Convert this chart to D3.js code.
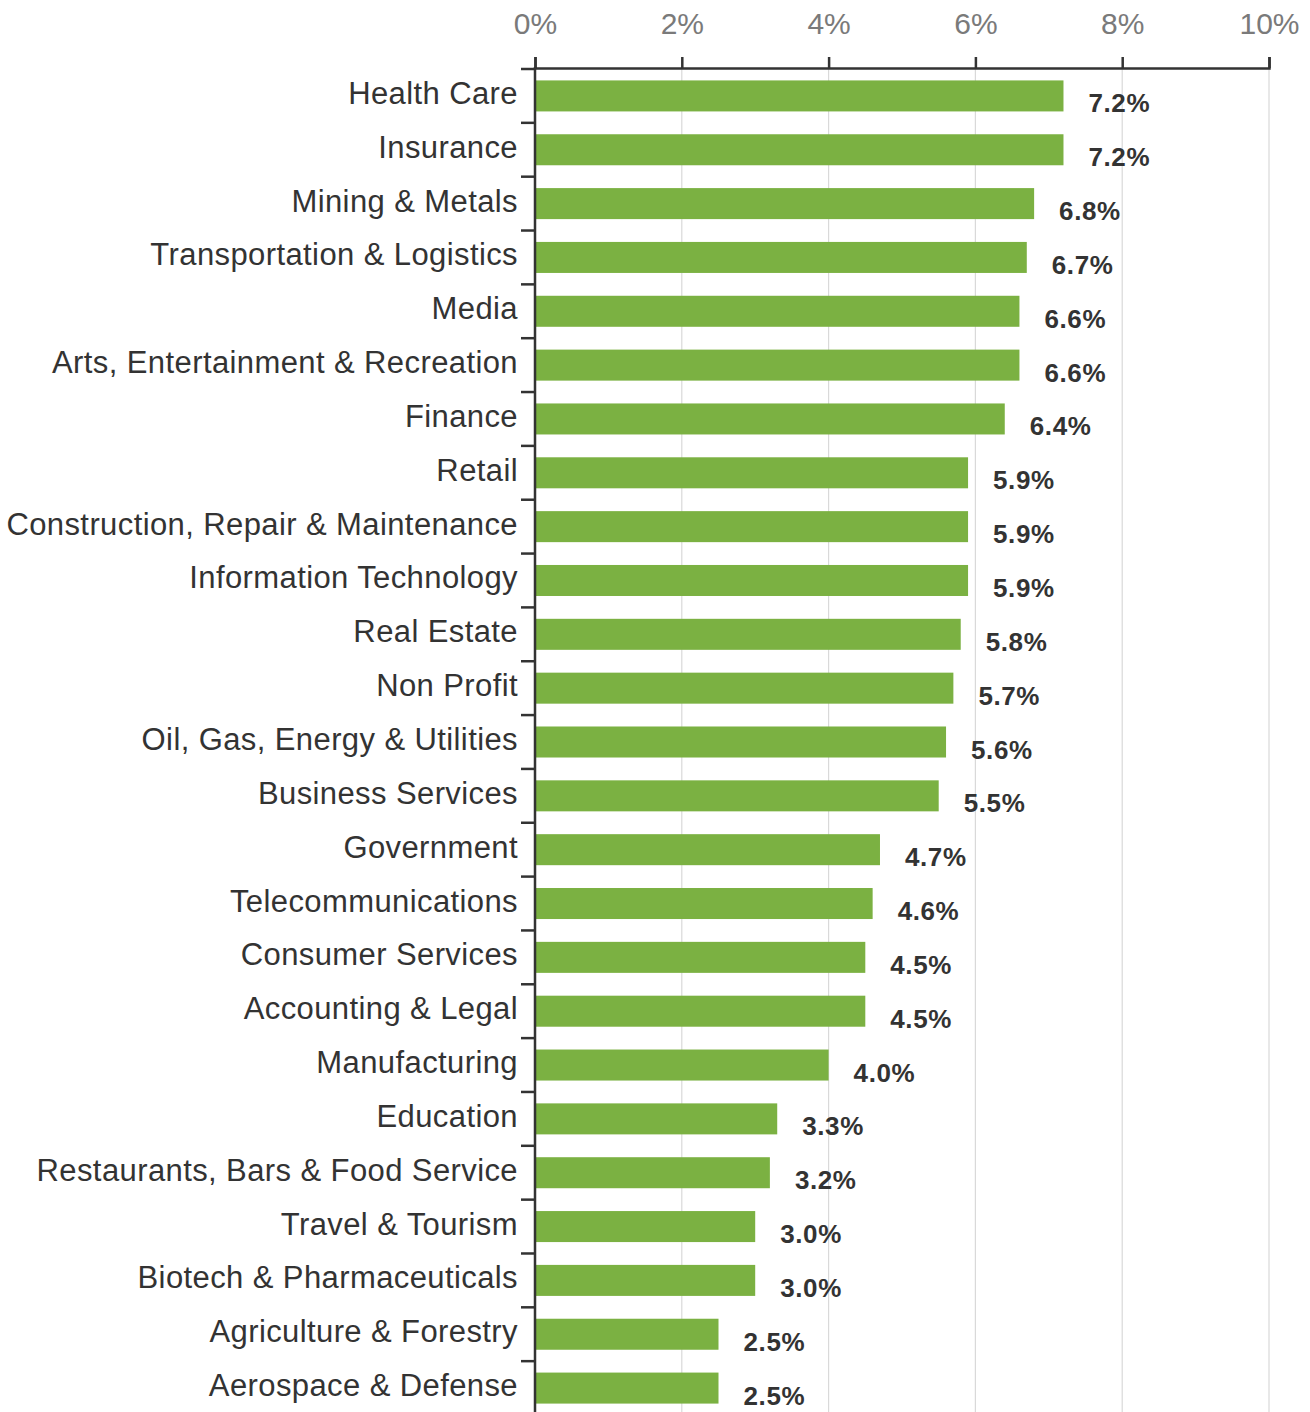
<!DOCTYPE html>
<html>
<head>
<meta charset="utf-8">
<script src="https://cdn.jsdelivr.net/npm/d3@7"></script>
<style>
  body { margin: 0; background: #fff; }
  svg { display: block; font-family: "Liberation Sans", Arial, sans-serif; }
</style>
</head>
<body>
<svg id="chart" width="1310" height="1412"></svg>
<script>
// Data
var categories = ["Health Care", "Insurance", "Mining & Metals", "Transportation & Logistics", "Media",
                  "Arts, Entertainment & Recreation", "Finance", "Retail", "Construction, Repair & Maintenance",
                  "Information Technology", "Real Estate", "Non Profit", "Oil, Gas, Energy & Utilities",
                  "Business Services", "Government", "Telecommunications", "Consumer Services",
                  "Accounting & Legal", "Manufacturing", "Education", "Restaurants, Bars & Food Service",
                  "Travel & Tourism", "Biotech & Pharmaceuticals", "Agriculture & Forestry", "Aerospace & Defense"];
var values = [7.2, 7.2, 6.8, 6.7, 6.6, 6.6, 6.4, 5.9, 5.9, 5.9, 5.8, 5.7, 5.6, 5.5,
              4.7, 4.6, 4.5, 4.5, 4.0, 3.3, 3.2, 3.0, 3.0, 2.5, 2.5];
var xTicks = [0, 2, 4, 6, 8, 10];

var data = categories.map(function(c, i) { return {name: c, value: values[i]}; });

var svg = d3.select("#chart");
var marginLeft = 535, marginRight = 1269, axisY = 68;

var x = d3.scaleLinear().domain([0, 10]).range([marginLeft, marginRight]);
var y = d3.scaleBand().domain(categories).range([69, 1415]).paddingInner(0.424).paddingOuter(0.212);
var gapHalf = (y.step() - y.bandwidth()) / 2;

// grid lines
svg.append("g").selectAll("line")
   .data(xTicks.slice(1))
   .enter().append("line")
   .attr("x1", function(d) { return x(d); })
   .attr("x2", function(d) { return x(d); })
   .attr("y1", axisY)
   .attr("y2", 1412)
   .attr("stroke", "#d9d9d9")
   .attr("stroke-width", 1.2);

// bars
svg.append("g").selectAll("rect")
   .data(data)
   .enter().append("rect")
   .attr("x", x(0))
   .attr("y", function(d) { return y(d.name); })
   .attr("width", function(d) { return x(d.value) - x(0); })
   .attr("height", y.bandwidth())
   .attr("fill", "#7bb142");

// value labels
svg.append("g").selectAll("text")
   .data(data)
   .enter().append("text")
   .attr("x", function(d) { return x(d.value) + 25; })
   .attr("y", function(d) { return y(d.name) + y.bandwidth() + 1; })
   .attr("font-size", 26)
   .attr("font-weight", "bold")
   .attr("letter-spacing", 0.6)
   .attr("fill", "#333")
   .text(function(d) { return d.value.toFixed(1) + "%"; });

// top axis
var xAxis = d3.axisTop(x).tickValues(xTicks).tickSize(11).tickPadding(23)
              .tickFormat(function(d) { return d + "%"; });
var gx = svg.append("g").attr("transform", "translate(0," + axisY + ")").call(xAxis);
gx.select(".domain").attr("stroke", "#333").attr("stroke-width", 2.5);
gx.selectAll(".tick line").attr("stroke", "#333").attr("stroke-width", 2.5);
gx.selectAll(".tick text").attr("fill", "#7a7a7a").attr("font-size", 30)
  .attr("font-family", "'Liberation Sans', Arial, sans-serif");

// left axis
var gy = svg.append("g");
gy.append("line")
  .attr("x1", marginLeft).attr("x2", marginLeft)
  .attr("y1", axisY - 1).attr("y2", 1412)
  .attr("stroke", "#333").attr("stroke-width", 2.5);
gy.selectAll(".ytick")
  .data(categories)
  .enter().append("line")
  .attr("class", "ytick")
  .attr("x1", marginLeft - 14).attr("x2", marginLeft)
  .attr("y1", function(d) { return y(d) - gapHalf; })
  .attr("y2", function(d) { return y(d) - gapHalf; })
  .attr("stroke", "#333").attr("stroke-width", 2.5);
gy.selectAll(".ylabel")
  .data(categories)
  .enter().append("text")
  .attr("class", "ylabel")
  .attr("x", 518)
  .attr("y", function(d) { return y(d) + y.bandwidth() / 2 + 8; })
  .attr("text-anchor", "end")
  .attr("font-size", 31)
  .attr("letter-spacing", 0.4)
  .attr("fill", "#333")
  .text(function(d) { return d; });
</script>
</body>
</html>
